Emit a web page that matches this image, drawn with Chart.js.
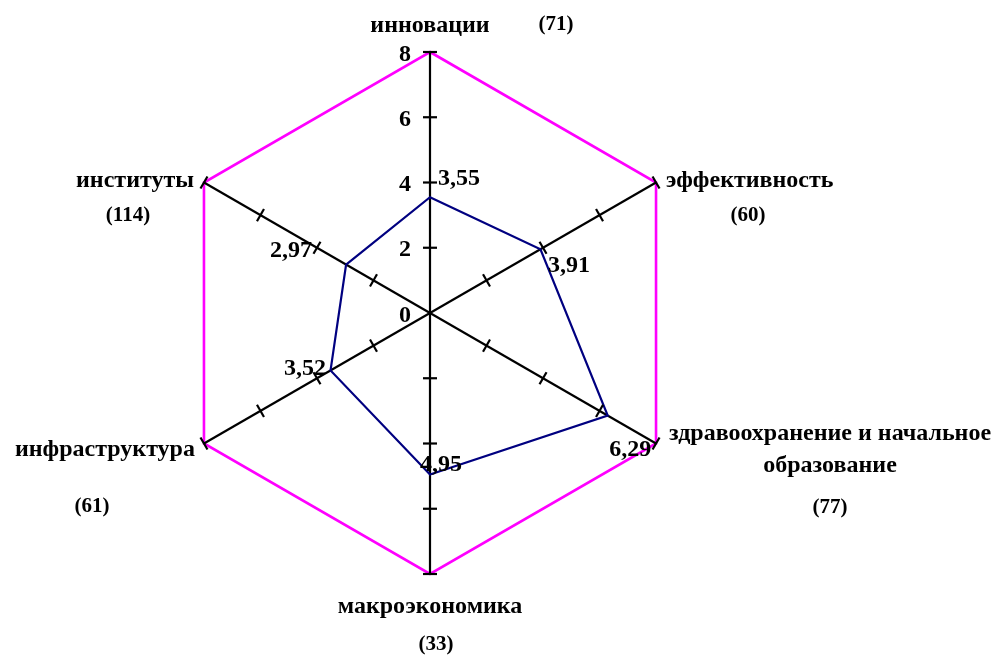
<!DOCTYPE html>
<html><head><meta charset="utf-8">
<script src="https://cdn.jsdelivr.net/npm/chart.js@4.4.0/dist/chart.umd.min.js"></script>
<style>html,body{margin:0;padding:0;background:#fff;}#wrap{width:1000px;height:657px;position:relative;}</style>
</head><body><div id="wrap"><canvas id="c"></canvas></div>
<script>
const categories = [['инновации'], ['эффективность'], ['здравоохранение и начальное', 'образование'], ['макроэкономика'], ['инфраструктура'], ['институты']];
const ranks = ['(71)', '(60)', '(77)', '(33)', '(61)', '(114)'];
const scores = [3.55, 3.91, 6.29, 4.95, 3.52, 2.97];
const scoreLabels = ['3,55', '3,91', '6,29', '4,95', '3,52', '2,97'];
const tickValues = [0, 2, 4, 6, 8];
const scaleMax = 8;

const FONT = '"Liberation Serif", "Times New Roman", serif';
// label placement relative to the axis end (layout only), alphabetic baselines
const catLayout = [
  {dx: 0, dy: -20, align: 'center', rdx: 126, rdy: -22},
  {dx: 10, dy: 4.5, align: 'left', rdx: 92, rdy: 38.5},
  {dx: 174, dy: -3.5, align: 'center', rdx: 174, rdy: 69.5},
  {dx: 0, dy: 39, align: 'center', rdx: 6, rdy: 76},
  {dx: -9, dy: 12.5, align: 'right', rdx: -112, rdy: 68.5},
  {dx: -10, dy: 4.5, align: 'right', rdx: -76, rdy: 38.5}
];
const valLayout = [
  {dx: 8, dy: -12.5, align: 'left'},
  {dx: 7.5, dy: 22.5, align: 'left'},
  {dx: 1.5, dy: 40.5, align: 'left'},
  {dx: -10, dy: -3, align: 'left'},
  {dx: -4.5, dy: 4.5, align: 'right'},
  {dx: -34, dy: -7.5, align: 'right'}
];

const decor = {
  id: 'decor',
  afterDatasetsDraw(chart) {
    const s = chart.scales.r;
    const ctx = chart.ctx;
    ctx.save();
    ctx.strokeStyle = '#000';
    ctx.lineWidth = 2.2;
    for (let i = 0; i < categories.length; i++) {
      for (const v of tickValues) {
        if (v === 0) continue;
        const p = s.getPointPositionForValue(i, v);
        const a = p.angle;
        const nx = -Math.sin(a), ny = Math.cos(a);
        ctx.beginPath();
        ctx.moveTo(p.x - nx * 7, p.y - ny * 7);
        ctx.lineTo(p.x + nx * 7, p.y + ny * 7);
        ctx.stroke();
      }
    }
    ctx.fillStyle = '#000';
    ctx.textBaseline = 'alphabetic';
    ctx.font = 'bold 24px ' + FONT;
    ctx.textAlign = 'right';
    for (const v of tickValues) {
      const p = s.getPointPositionForValue(0, v);
      ctx.fillText(String(v), p.x - 19, p.y + 8.5);
    }
    ctx.font = 'bold 24px ' + FONT;
    scores.forEach((v, i) => {
      const p = s.getPointPositionForValue(i, v);
      const L = valLayout[i];
      ctx.textAlign = L.align;
      ctx.fillText(scoreLabels[i], p.x + L.dx, p.y + L.dy);
    });
    categories.forEach((lines, i) => {
      const p = s.getPointPositionForValue(i, scaleMax);
      const L = catLayout[i];
      ctx.font = 'bold 24px ' + FONT;
      ctx.textAlign = L.align;
      lines.forEach((t, k) => ctx.fillText(t, p.x + L.dx, p.y + L.dy + k * 32));
      ctx.font = 'bold 21px ' + FONT;
      ctx.textAlign = 'center';
      ctx.fillText(ranks[i], p.x + L.rdx, p.y + L.rdy);
    });
    ctx.restore();
  }
};

new Chart(document.getElementById('c'), {
  type: 'radar',
  data: {
    labels: categories,
    datasets: [{
      data: scores,
      borderColor: '#000080',
      borderWidth: 2.2,
      pointRadius: 0,
      fill: false,
      tension: 0
    }]
  },
  options: {
    responsive: true,
    maintainAspectRatio: false,
    animation: false,
    layout: {padding: {left: 169, right: 309, top: 52, bottom: 83}},
    plugins: {legend: {display: false}, tooltip: {enabled: false}},
    scales: {
      r: {
        min: 0, max: scaleMax,
        ticks: {display: false, stepSize: 2},
        pointLabels: {display: false},
        angleLines: {color: '#000', lineWidth: 2.2},
        grid: {
          lineWidth: 2.6,
          color: c => (c.tick && c.tick.value === scaleMax) ? '#FF00FF' : 'rgba(0,0,0,0)'
        }
      }
    }
  },
  plugins: [decor]
});
</script></body></html>
